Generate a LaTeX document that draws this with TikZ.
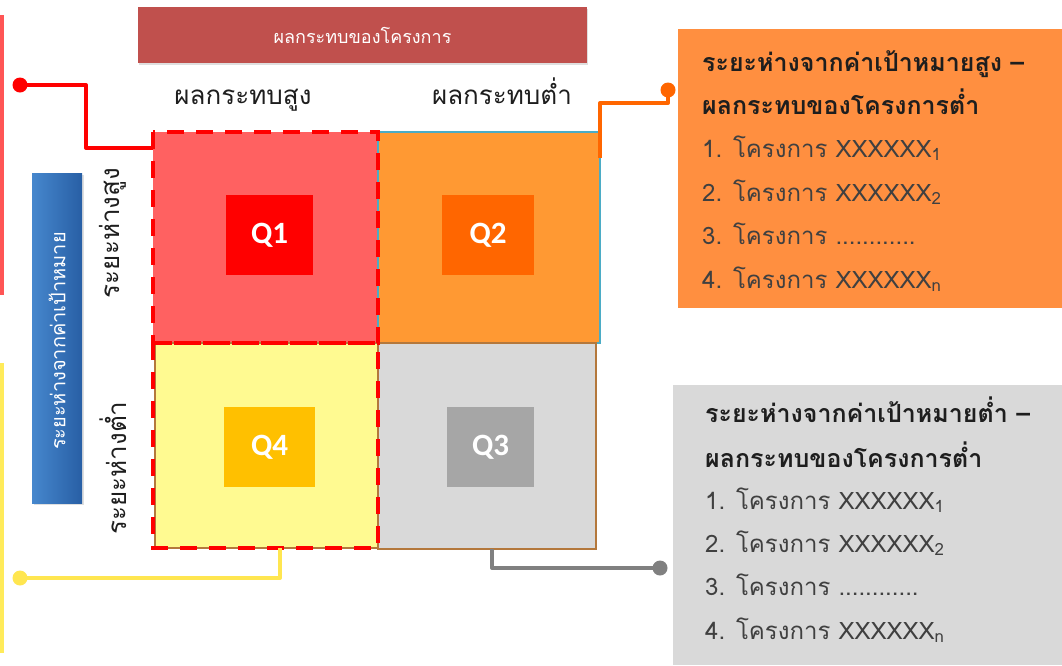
\documentclass[tikz,border=0pt]{standalone}
\usepackage{fontspec}
\newfontfamily\thai[Script=Thai]{Loma}
\newfontfamily\qfont{Carlito}
\usetikzlibrary{shadows}
\definecolor{stripred}{RGB}{255,85,85}
\definecolor{stripyel}{RGB}{255,235,90}
\definecolor{titlebar}{RGB}{192,80,77}
\definecolor{qonebg}{RGB}{255,97,97}
\definecolor{qonein}{RGB}{255,0,0}
\definecolor{qtwobg}{RGB}{255,153,51}
\definecolor{qtwoin}{RGB}{255,102,0}
\definecolor{qthreebg}{RGB}{217,217,217}
\definecolor{qthreein}{RGB}{166,166,166}
\definecolor{qfourbg}{RGB}{255,250,145}
\definecolor{qfourin}{RGB}{255,192,0}
\definecolor{qtwoline}{RGB}{75,172,198}
\definecolor{brownline}{RGB}{180,120,60}
\definecolor{orangebox}{RGB}{255,143,64}
\definecolor{graybox}{RGB}{217,217,217}
\definecolor{orgline}{RGB}{255,102,0}
\definecolor{grayline}{RGB}{128,128,128}
\definecolor{yelline}{RGB}{255,230,80}
\definecolor{bluelight}{RGB}{70,135,205}
\definecolor{bluedark}{RGB}{40,95,165}
\definecolor{txt}{RGB}{30,30,30}
\begin{document}
\begin{tikzpicture}[x=1pt,y=-1pt,
  qbox/.style={draw=none, inner sep=0, outer sep=0},
  qlabel/.style={inner sep=0, outer sep=0, text=white, font=\qfont\bfseries\fontsize{31}{31}\selectfont},
  dashbox/.style={draw=red, line width=4.5pt, dash pattern=on 17pt off 12pt},
  conn/.style={line width=4pt, line join=round},
  head/.style={font=\thai\fontsize{26}{30}\selectfont, text=txt, inner sep=0},
  listbold/.style={anchor=base west, font=\thai\bfseries\fontsize{25}{28}\selectfont, text=txt, inner sep=0},
  listtxt/.style={anchor=base west, font=\thai\fontsize{24}{28}\selectfont, text=txt!85, inner sep=0}
]
\useasboundingbox (0,0) rectangle (1062,665);
% side strips
\fill[stripred] (0,15) rectangle (4,295);
\fill[stripyel] (0,363) rectangle (4,653);
% title bar
\node[qbox, fill=titlebar, minimum width=449pt, minimum height=56pt, drop shadow={opacity=0.25, shadow xshift=1pt, shadow yshift=-2pt},
  text=white, font=\thai\fontsize{18}{20}\selectfont] (title) at (362.5,35) {ผลกระทบของโครงการ};
% column headings
\node[head, anchor=base] (hhigh) at (243,104) {ผลกระทบสูง};
\node[head, anchor=base] (hlow) at (502,104) {ผลกระทบต่ำ};
% blue bar
\node[qbox, left color=bluelight, right color=bluedark, minimum width=50pt, minimum height=330pt,
  drop shadow={opacity=0.25, shadow xshift=2pt, shadow yshift=-2pt}] (bluebar) at (57,338) {};
\node[rotate=90, text=white, font=\thai\fontsize{20}{22}\selectfont, inner sep=0] (bluetxt) at (57,341) {ระยะห่างจากค่าเป้าหมาย};
% row labels
\node[head, rotate=90] (rhigh) at (113,233) {ระยะห่างสูง};
\node[head, rotate=90] (rlow) at (113,468) {ระยะห่างต่ำ};
% quadrants
\node[qbox, fill=qonebg, minimum width=225pt, minimum height=211pt] (q1) at (265.5,237.5) {};
\node[qbox, fill=qtwobg, draw=qtwoline, line width=1.2pt, minimum width=222pt, minimum height=211pt] (q2) at (489,237.5) {};
\node[qbox, fill=qfourbg, draw=brownline, line width=1.2pt, minimum width=223pt, minimum height=205pt] (q4) at (266.5,445.5) {};
\node[qbox, fill=qthreebg, draw=brownline, line width=1.2pt, minimum width=218pt, minimum height=206pt] (q3) at (487,446) {};
% inner squares
\node[qbox, fill=qonein, minimum width=87pt, minimum height=80pt] (q1in) at (269.5,235) {};
\node[qlabel] (q1t) at (q1in) {Q1};
\node[qbox, fill=qtwoin, minimum width=92pt, minimum height=80pt] (q2in) at (488,235) {};
\node[qlabel] (q2t) at (q2in) {Q2};
\node[qbox, fill=qfourin, minimum width=91pt, minimum height=80pt] (q4in) at (269.5,447) {};
\node[qlabel] (q4t) at (q4in) {Q4};
\node[qbox, fill=qthreein, minimum width=87pt, minimum height=80pt] (q3in) at (490.5,447) {};
\node[qlabel] (q3t) at (q3in) {Q3};
% dashed highlight
\draw[dashbox] (q1.north west) rectangle (q1.south east);
\draw[dashbox] (q1.south west) rectangle (q4.south east);
% side boxes
\node[qbox, fill=orangebox, minimum width=384pt, minimum height=279pt] (obox) at (870,168.5) {};
\node[qbox, fill=graybox, minimum width=389pt, minimum height=280pt] (gbox) at (867.5,525) {};
% orange box text
\node[listbold] (o1) at (702,71) {ระยะห่างจากค่าเป้าหมายสูง –};
\node[listbold] (o2) at (702,114) {ผลกระทบของโครงการต่ำ};
\node[listtxt] (o3) at (702,157) {1. โครงการ XXXXXX\textsubscript{1}};
\node[listtxt] (o4) at (702,201) {2. โครงการ XXXXXX\textsubscript{2}};
\node[listtxt] (o5) at (702,244) {3. โครงการ ............};
\node[listtxt] (o6) at (702,288) {4. โครงการ XXXXXX\textsubscript{n}};
% gray box text
\node[listbold] (g1) at (705,422) {ระยะห่างจากค่าเป้าหมายต่ำ –};
\node[listbold] (g2) at (705,467) {ผลกระทบของโครงการต่ำ};
\node[listtxt] (g3) at (705,509) {1. โครงการ XXXXXX\textsubscript{1}};
\node[listtxt] (g4) at (705,552) {2. โครงการ XXXXXX\textsubscript{2}};
\node[listtxt] (g5) at (705,595) {3. โครงการ ............};
\node[listtxt] (g6) at (705,639) {4. โครงการ XXXXXX\textsubscript{n}};
% connectors
\coordinate (rdot) at (20,85);
\coordinate (odot) at (668,90);
\coordinate (gdot) at (660,568);
\coordinate (ydot) at (20,578);
\draw[conn, qonein] (rdot) -- (86,85) |- ([yshift=-16pt]q1.north west);
\fill[qonein] (rdot) circle (7.5pt);
\draw[conn, orgline] ([yshift=-26pt]q2.north east) -- (600,103) -- (668,103) -- (odot);
\fill[orgline] (odot) circle (7.5pt);
\draw[conn, grayline] ([xshift=5pt]q3.south) |- (gdot);
\fill[grayline] (gdot) circle (7.5pt);
\draw[conn, yelline] (ydot) -| ([xshift=13.5pt]q4.south);
\fill[yelline] (ydot) circle (7.5pt);
\end{tikzpicture}
\end{document}
